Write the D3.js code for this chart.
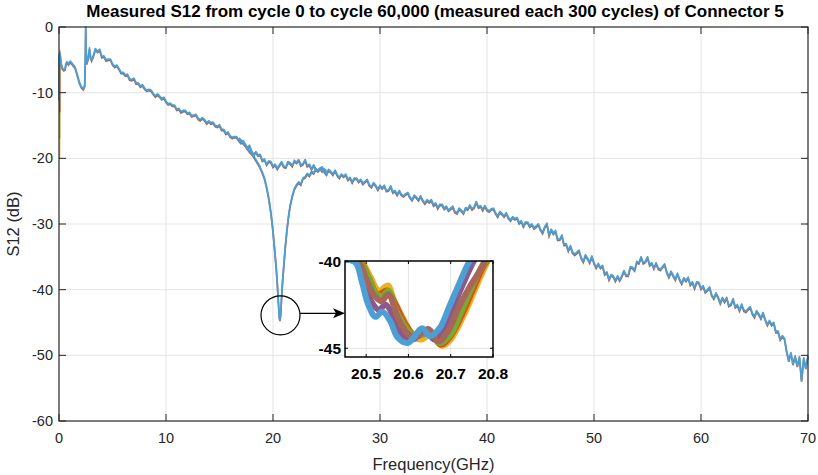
<!DOCTYPE html>
<html>
<head>
<meta charset="utf-8">
<script src="https://cdn.jsdelivr.net/npm/d3@7"></script>
<style>
	body { margin: 0; background: #fff; }
	svg text { font-family: "Liberation Sans", Arial, sans-serif; fill: #262626; }
	.title { font-weight: bold; font-size: 17px; fill: #000; }
	.tick-label { font-size: 14.5px; }
	.axis-label { font-size: 16.5px; }
	.inset-label { font-size: 15.5px; font-weight: bold; fill: #000; }
</style>
</head>
<body>
<svg id="viz"></svg>
<script>
// x ticks / y ticks of the main axes and the zoomed inset
const xTicks = [0, 10, 20, 30, 40, 50, 60, 70];
const yTicks = [0, -10, -20, -30, -40, -50, -60];
const insetXTicks = [20.5, 20.6, 20.7, 20.8];
const insetYTicks = [-40, -45];

// 0 - 3 GHz part of the trace (GHz, dB)
const lowFreq = [0.00, 0.02, 0.1, 0.2, 0.3, 0.45, 0.56, 0.65, 0.75, 0.9, 1.05, 1.2, 1.35, 1.5, 1.7, 1.9, 2.1, 2.27, 2.4, 2.47, 2.5, 2.53, 2.6, 2.74, 2.85, 2.95, 3.05];
const lowDb = [-11.0, -4.2, -4.0, -5.5, -6.2, -6.5, -6.4, -5.6, -5.3, -5.6, -5.2, -5.5, -5.8, -6.1, -7.2, -8.4, -9.1, -9.4, -8.9, -4.0, 0.0, -3.5, -5.5, -4.6, -3.2, -4.6, -5.0];

// first sample of the other cycles (they start lower at 0 GHz)
const startDb = [-3.5, -20.0, -17.0, -13.0];
const startColors = ["#D95319", "#EDB120", "#77AC30", "#A2142F"];

// 3.2 - 70 GHz, one value every 0.2 GHz (upper branch)
const mainStart = 3.2;
const mainStep = 0.2;
const mainDb = [
	-4.4, -3.3, -3.7, -3.4, -4.5,  -4.4, -5.0, -4.9, -4.9, -5.6,
	-6.0, -5.8, -6.3, -6.9, -6.9,  -7.3, -7.2, -7.9, -8.0, -7.8,
	-8.5, -8.5, -9.0, -8.8, -9.3,  -9.6, -9.5, -9.6, -10.1, -10.5,
	-10.2, -10.5, -10.9, -10.7, -11.3,  -11.7, -11.6, -11.9, -11.9, -12.5,
	-12.4, -12.9, -12.7, -12.7, -13.1,  -13.0, -13.5, -13.4, -13.3, -13.9,
	-14.1, -13.8, -14.1, -14.6, -14.3,  -14.6, -14.5, -15.0, -15.1, -14.9,
	-15.6, -15.6, -16.2, -16.0, -16.6,  -16.8, -16.7, -16.7, -17.2, -17.6,
	-17.3, -17.8, -18.4, -18.0, -18.9,  -19.4, -19.0, -19.5, -19.4, -20.3,
	-20.1, -20.9, -20.4, -20.5, -21.2,  -20.9, -21.5, -21.0, -20.5, -21.2,
	-21.3, -20.5, -20.7, -21.1, -20.3,  -20.6, -20.2, -21.0, -20.8, -20.2,
	-21.1, -20.9, -21.6, -21.0, -21.6,  -21.8, -21.5, -21.3, -22.0, -22.4,
	-21.7, -22.0, -22.4, -21.8, -22.5,  -22.9, -22.4, -22.7, -22.4, -23.2,
	-22.9, -23.6, -23.0, -23.0, -23.5,  -23.2, -23.8, -23.5, -23.2, -24.0,
	-24.3, -23.7, -24.1, -24.7, -24.1,  -24.5, -24.1, -24.9, -24.8, -24.2,
	-25.1, -24.9, -25.5, -24.9, -25.5,  -25.7, -25.4, -25.2, -25.9, -26.3,
	-25.6, -25.9, -26.3, -25.7, -26.4,  -26.8, -26.3, -26.6, -26.3, -27.1,
	-26.8, -27.5, -27.0, -27.0, -27.6,  -27.3, -27.9, -27.6, -27.3, -28.1,
	-28.3, -27.6, -27.9, -28.3, -27.5,  -27.7, -27.1, -27.7, -27.4, -26.6,
	-27.4, -27.2, -27.8, -27.2, -27.8,  -28.0, -27.7, -27.6, -28.3, -28.8,
	-28.1, -28.4, -28.8, -28.3, -29.0,  -29.4, -28.9, -29.2, -29.0, -29.8,
	-29.5, -30.3, -29.7, -29.7, -30.3,  -30.0, -30.6, -30.3, -30.0, -30.8,
	-31.3, -30.4, -29.9, -31.7, -30.8,  -31.4, -31.0, -32.3, -32.3, -31.7,
	-33.1, -33.0, -34.0, -33.3, -34.3,  -34.6, -34.3, -34.0, -35.1, -35.7,
	-34.7, -35.2, -35.8, -34.9, -35.9,  -36.6, -36.0, -36.6, -36.3, -37.6,
	-37.3, -38.4, -37.7, -37.9, -38.6,  -37.9, -38.5, -37.9, -37.1, -37.8,
	-37.8, -36.5, -36.6, -37.0, -35.7,  -35.9, -35.0, -35.9, -35.7, -35.0,
	-36.2, -35.9, -36.7, -35.9, -36.7,  -36.9, -36.5, -36.1, -37.3, -38.0,
	-37.2, -37.8, -38.4, -37.5, -38.4,  -39.0, -38.2, -38.6, -38.1, -39.2,
	-38.8, -39.7, -38.8, -38.9, -39.8,  -39.4, -40.3, -40.0, -39.6, -40.8,
	-41.3, -40.5, -41.1, -42.0, -41.2,  -41.8, -41.2, -42.4, -42.2, -41.4,
	-42.6, -42.3, -43.1, -42.2, -43.1,  -43.3, -42.9, -42.6, -43.6, -44.1,
	-43.2, -43.7, -44.3, -43.5, -44.5,  -45.3, -44.7, -45.3, -45.0, -46.4,
	-46.3, -47.5, -47.0, -47.4, -49.3,  -50.8, -49.6, -51.3, -50.1, -51.6,
	-50.2, -53.8, -50.4, -51.9, -50.0
];

// resonance dip branch 16.8 - 25 GHz (GHz, dB)
const dipFreq = [16.8, 17.0, 17.2, 17.5, 17.8, 18.1, 18.4, 18.7, 19.0, 19.2, 19.4, 19.6, 19.8, 20.0, 20.15, 20.3, 20.42, 20.52, 20.6, 20.65, 20.7, 20.78, 20.88, 21.0, 21.15, 21.3, 21.45, 21.6, 21.8, 22.0, 22.2, 22.4, 22.6, 22.8, 23.0, 23.2, 23.4, 23.6, 23.8, 24.0, 24.2, 24.4, 24.6, 24.8, 25.0];
const dipDb = [-16.9, -17.2, -17.6, -18.2, -18.9, -19.4, -20.2, -21.0, -22.1, -23.0, -24.3, -26.0, -28.2, -31.0, -33.8, -36.6, -39.5, -42.3, -44.2, -44.6, -44.0, -41.8, -39.0, -36.5, -33.4, -30.9, -28.8, -27.2, -25.7, -24.6, -24.0, -23.6, -23.9, -23.0, -22.8, -22.3, -22.6, -22.0, -22.2, -21.6, -21.9, -21.5, -21.9, -21.6, -21.9];

// inset: bottom of the dip for several cycles
const insetNames = ["yellow", "orange", "green", "purple", "brown", "blue"];
const insetColors = ["#EDB120", "#D95319", "#77AC30", "#8a5a8c", "#a8665a", "#4d9fd3"];
const insetFreq = {
	yellow: [20.45, 20.49, 20.51, 20.53, 20.552, 20.565, 20.59, 20.615, 20.63, 20.655, 20.68, 20.70, 20.735, 20.765, 20.79, 20.80],
	orange: [20.45, 20.487, 20.507, 20.527, 20.55, 20.568, 20.595, 20.618, 20.65, 20.676, 20.70, 20.73, 20.755, 20.78, 20.80],
	green:  [20.45, 20.485, 20.505, 20.525, 20.54, 20.552, 20.572, 20.60, 20.622, 20.65, 20.673, 20.70, 20.725, 20.75, 20.772, 20.79],
	purple: [20.45, 20.478, 20.495, 20.512, 20.53, 20.546, 20.565, 20.588, 20.61, 20.64, 20.662, 20.685, 20.71, 20.735, 20.757, 20.77],
	brown:  [20.45, 20.48, 20.50, 20.52, 20.537, 20.552, 20.576, 20.60, 20.62, 20.647, 20.671, 20.694, 20.718, 20.742, 20.765, 20.785],
	blue:   [20.45, 20.475, 20.49, 20.505, 20.522, 20.538, 20.556, 20.575, 20.598, 20.615, 20.632, 20.652, 20.675, 20.695, 20.72, 20.745, 20.76]
};
const insetDb = {
	yellow: [-39.9, -40.1, -40.9, -41.7, -41.4, -42.2, -43.4, -44.4, -44.5, -44.2, -44.85, -44.5, -42.9, -41.2, -39.9, -39.5],
	orange: [-39.9, -40.1, -41.0, -41.9, -41.7, -42.4, -43.7, -44.3, -44.1, -44.8, -44.3, -42.9, -41.5, -40.2, -39.6],
	green:  [-39.9, -40.1, -40.9, -41.9, -42.0, -41.7, -42.9, -44.0, -44.3, -44.0, -44.7, -44.2, -42.9, -41.5, -40.4, -39.8],
	purple: [-39.9, -40.1, -41.2, -42.3, -42.8, -42.5, -43.2, -44.3, -44.5, -44.0, -44.5, -43.8, -42.4, -41.0, -39.9, -39.5],
	brown:  [-39.9, -40.0, -41.0, -42.0, -42.3, -41.9, -43.3, -44.2, -44.3, -43.9, -44.6, -44.0, -42.7, -41.6, -40.7, -39.8],
	blue:   [-39.9, -40.1, -41.2, -42.5, -43.2, -42.9, -43.4, -44.4, -44.7, -44.3, -43.85, -44.3, -43.8, -42.7, -41.3, -40.0, -39.6]
};

// where the zoom circle sits (GHz, dB)
const zoomSpot = [20.7, -43.9];

const mainColor = "#4d9fd3";
const shadowColor = "#9c6a5e";

let drawEverything = function() {
	const width = 818;
	const height = 475;
	const margin = { top: 27, right: 10, bottom: 54, left: 59 };
	const plotWidth = width - margin.left - margin.right;
	const plotHeight = height - margin.top - margin.bottom;

	const svg = d3.select("svg#viz")
		.attr("width", width)
		.attr("height", height);

	const x = d3.scaleLinear().domain([0, 70]).range([0, plotWidth]);
	const y = d3.scaleLinear().domain([-60, 0]).range([plotHeight, 0]);

	const plot = svg.append("g").attr("id", "plot")
		.attr("transform", translate(margin.left, margin.top));

	// put the pieces of the trace together as [GHz, dB]
	const lowPart = lowFreq.map((f, i) => [f, lowDb[i]]);
	const mainPart = mainDb.map((v, i) => [mainStart + i * mainStep, v]);
	const trace = lowPart.concat(mainPart);
	const dip = dipFreq.map((f, i) => [f, dipDb[i]]);

	drawGrid();
	drawTraces();
	drawAxes();
	drawInset();
	drawPointer();
	drawTitles();

	function drawGrid() {
		const grid = plot.append("g").attr("id", "grid");
		grid.selectAll("line.gx")
			.data(xTicks.slice(1, -1))
			.enter().append("line")
			.attr("class", "gx")
			.attr("x1", d => x(d)).attr("x2", d => x(d))
			.attr("y1", 0).attr("y2", plotHeight)
			.attr("stroke", "#e3e3e3").attr("stroke-width", 1);
		grid.selectAll("line.gy")
			.data(yTicks.slice(1, -1))
			.enter().append("line")
			.attr("class", "gy")
			.attr("x1", 0).attr("x2", plotWidth)
			.attr("y1", d => y(d)).attr("y2", d => y(d))
			.attr("stroke", "#e3e3e3").attr("stroke-width", 1);
	}

	function drawTraces() {
		const line = d3.line().x(d => x(d[0])).y(d => y(d[1]));
		const g = plot.append("g").attr("id", "traces");

		// older cycles peek out below the last one
		[trace, dip].forEach(function(data) {
			g.append("path")
				.attr("d", line(data))
				.attr("fill", "none")
				.attr("stroke", shadowColor)
				.attr("stroke-width", 1.7)
				.attr("transform", translate(0, 1.3));
		});

		// other cycles start at a different level at 0 GHz
		g.selectAll("line.start")
			.data(startDb)
			.enter().append("line")
			.attr("class", "start")
			.attr("x1", x(0) + 0.8).attr("x2", x(0) + 0.8)
			.attr("y1", y(-4.2))
			.attr("y2", d => y(d))
			.attr("stroke", (d, i) => startColors[i])
			.attr("stroke-width", 1.5)
			.attr("opacity", 0.6);

		[trace, dip].forEach(function(data) {
			g.append("path")
				.attr("d", line(data))
				.attr("fill", "none")
				.attr("stroke", mainColor)
				.attr("stroke-width", 1.8)
				.attr("stroke-linejoin", "round");
		});
	}

	function drawAxes() {
		const axisColor = "#262626";
		const tickLen = 7;
		const axes = plot.append("g").attr("id", "axes");

		axes.append("rect")
			.attr("width", plotWidth).attr("height", plotHeight)
			.attr("fill", "none").attr("stroke", axisColor).attr("stroke-width", 1.2);

		xTicks.forEach(function(t) {
			axes.append("line")
				.attr("x1", x(t)).attr("x2", x(t))
				.attr("y1", plotHeight).attr("y2", plotHeight - tickLen)
				.attr("stroke", axisColor);
			axes.append("line")
				.attr("x1", x(t)).attr("x2", x(t))
				.attr("y1", 0).attr("y2", tickLen)
				.attr("stroke", axisColor);
			axes.append("text")
				.attr("class", "tick-label")
				.attr("x", x(t)).attr("y", plotHeight + 22)
				.attr("text-anchor", "middle")
				.text(t);
		});

		yTicks.forEach(function(t) {
			axes.append("line")
				.attr("x1", 0).attr("x2", tickLen)
				.attr("y1", y(t)).attr("y2", y(t))
				.attr("stroke", axisColor);
			axes.append("line")
				.attr("x1", plotWidth).attr("x2", plotWidth - tickLen)
				.attr("y1", y(t)).attr("y2", y(t))
				.attr("stroke", axisColor);
			axes.append("text")
				.attr("class", "tick-label")
				.attr("x", -6).attr("y", y(t) + 5)
				.attr("text-anchor", "end")
				.text(t);
		});
	}

	function drawInset() {
		const left = 345 - margin.left;
		const top = 261 - margin.top;
		const w = 148;
		const h = 96;

		const ix = d3.scaleLinear().domain([20.45, 20.8]).range([0, w]);
		const iy = d3.scaleLinear().domain([-45.5, -40]).range([h, 0]);

		const inset = plot.append("g").attr("id", "inset")
			.attr("transform", translate(left, top));

		inset.append("rect")
			.attr("width", w).attr("height", h)
			.attr("fill", "#fff");

		svg.append("defs").append("clipPath").attr("id", "inset-clip")
			.append("rect").attr("width", w).attr("height", h);

		inset.selectAll("line.igx")
			.data(insetXTicks.slice(0, -1))
			.enter().append("line")
			.attr("class", "igx")
			.attr("x1", d => ix(d)).attr("x2", d => ix(d))
			.attr("y1", 0).attr("y2", h)
			.attr("stroke", "#e3e3e3");
		inset.selectAll("line.igy")
			.data(insetYTicks.slice(1))
			.enter().append("line")
			.attr("class", "igy")
			.attr("x1", 0).attr("x2", w)
			.attr("y1", d => iy(d)).attr("y2", d => iy(d))
			.attr("stroke", "#e3e3e3");

		const iline = d3.line()
			.x(d => ix(d[0])).y(d => iy(d[1]))
			.curve(d3.curveCatmullRom);

		inset.append("g").attr("clip-path", "url(#inset-clip)")
			.selectAll("path")
			.data(insetNames)
			.enter().append("path")
			.attr("d", name => iline(insetFreq[name].map((f, i) => [f, insetDb[name][i]])))
			.attr("fill", "none")
			.attr("stroke", (name, i) => insetColors[i])
			.attr("stroke-width", 6)
			.attr("stroke-linejoin", "round");

		inset.append("rect")
			.attr("width", w).attr("height", h)
			.attr("fill", "none").attr("stroke", "#000").attr("stroke-width", 1.5);

		insetXTicks.forEach(function(t) {
			inset.append("line")
				.attr("x1", ix(t)).attr("x2", ix(t))
				.attr("y1", h).attr("y2", h - 3)
				.attr("stroke", "#000");
			inset.append("line")
				.attr("x1", ix(t)).attr("x2", ix(t))
				.attr("y1", 0).attr("y2", 3)
				.attr("stroke", "#000");
			inset.append("text")
				.attr("class", "inset-label")
				.attr("x", ix(t)).attr("y", h + 22)
				.attr("text-anchor", "middle")
				.text(t.toFixed(1));
		});

		insetYTicks.forEach(function(t) {
			inset.append("line")
				.attr("x1", 0).attr("x2", 3)
				.attr("y1", iy(t)).attr("y2", iy(t))
				.attr("stroke", "#000");
			inset.append("line")
				.attr("x1", w).attr("x2", w - 3)
				.attr("y1", iy(t)).attr("y2", iy(t))
				.attr("stroke", "#000");
			inset.append("text")
				.attr("class", "inset-label")
				.attr("x", -4).attr("y", iy(t) + 5.5)
				.attr("text-anchor", "end")
				.text(t);
		});
	}

	function drawPointer() {
		const cx = x(zoomSpot[0]);
		const cy = y(zoomSpot[1]);
		const r = 19.5;
		const tipX = 345 - margin.left;
		const arrowY = cy - 2;

		const g = plot.append("g").attr("id", "pointer");
		g.append("circle")
			.attr("cx", cx).attr("cy", cy).attr("r", r)
			.attr("fill", "none").attr("stroke", "#000").attr("stroke-width", 1.2);
		g.append("line")
			.attr("x1", cx + r).attr("x2", tipX - 6)
			.attr("y1", arrowY).attr("y2", arrowY)
			.attr("stroke", "#000").attr("stroke-width", 1.2);
		g.append("path")
			.attr("d", "M" + tipX + "," + arrowY + " L" + (tipX - 12) + "," + (arrowY - 5) +
				" L" + (tipX - 9) + "," + arrowY + " L" + (tipX - 12) + "," + (arrowY + 5) + " Z")
			.attr("fill", "#000");
	}

	function drawTitles() {
		svg.append("text")
			.attr("class", "title")
			.attr("x", 435)
			.attr("y", 17)
			.attr("text-anchor", "middle")
			.text("Measured S12 from cycle 0 to cycle 60,000 (measured each 300 cycles) of Connector 5");

		svg.append("text")
			.attr("class", "axis-label")
			.attr("x", margin.left + plotWidth / 2)
			.attr("y", 470)
			.attr("text-anchor", "middle")
			.text("Frequency(GHz)");

		svg.append("text")
			.attr("class", "axis-label")
			.attr("transform", translate(19, margin.top + plotHeight / 2) + " rotate(-90)")
			.attr("text-anchor", "middle")
			.text("S12 (dB)");
	}
};

let translate = function(x, y) {
	return 'translate(' + x + ',' + y + ')';
}

drawEverything();
</script>
</body>
</html>
